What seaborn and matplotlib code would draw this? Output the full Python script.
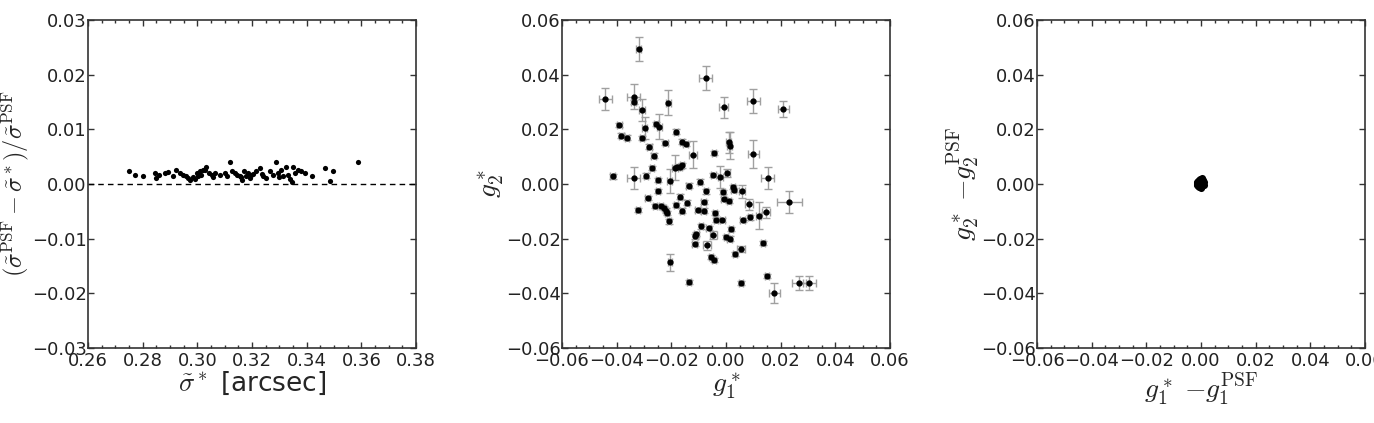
import numpy as np
import pandas as pd
import matplotlib
matplotlib.use('Agg')
import matplotlib.pyplot as plt
import seaborn as sns
from matplotlib.ticker import MultipleLocator

# ---- panel 1: size residuals vs star size ----
sigma_star = [0.2750, 0.2771, 0.2801, 0.2844, 0.2850, 0.2860, 0.2881, 0.2893, 0.2911, 0.2923,
              0.2936, 0.2948, 0.2960, 0.2966, 0.2975, 0.2985, 0.2997, 0.3003, 0.3009, 0.3015,
              0.3027, 0.3033, 0.3043, 0.3052, 0.3064, 0.3082, 0.3100, 0.3119, 0.3127, 0.3137,
              0.3146, 0.3155, 0.3164, 0.3170, 0.3177, 0.3186, 0.3192, 0.3204, 0.3216, 0.3229,
              0.3241, 0.3253, 0.3265, 0.3277, 0.3287, 0.3296, 0.3306, 0.3314, 0.3324, 0.3332,
              0.3345, 0.3351, 0.3359, 0.3369, 0.3381, 0.3393, 0.3418, 0.3467, 0.3485, 0.3497,
              0.3589, 0.2990, 0.3020, 0.3058, 0.3110, 0.3160, 0.3195, 0.3235, 0.3300, 0.3340]
size_resid = [0.0023, 0.0017, 0.0015, 0.0021, 0.0011, 0.0017, 0.0020, 0.0022, 0.0014, 0.0026,
              0.0020, 0.0017, 0.0014, 0.0011, 0.0008, 0.0013, 0.0020, 0.0014, 0.0023, 0.0017,
              0.0026, 0.0031, 0.0020, 0.0017, 0.0021, 0.0017, 0.0020, 0.0040, 0.0023, 0.0020,
              0.0017, 0.0014, 0.0008, 0.0023, 0.0015, 0.0020, 0.0011, 0.0019, 0.0023, 0.0030,
              0.0014, 0.0011, 0.0023, 0.0017, 0.0040, 0.0020, 0.0026, 0.0014, 0.0031, 0.0017,
              0.0004, 0.0031, 0.0020, 0.0026, 0.0023, 0.0020, 0.0015, 0.0030, 0.0005, 0.0023,
              0.0040, 0.0010, 0.0025, 0.0012, 0.0015, 0.0012, 0.0016, 0.0019, 0.0013, 0.0009]

# ---- panel 2: star ellipticities with errors ----
# first 35 stars have visible error bars, the rest are small (0.0008)
g1 = [-0.0442, -0.0320, -0.0074, -0.0338, -0.0338, -0.0308, -0.0211, -0.0009, 0.0100, 0.0210,
      -0.0298, -0.0244, -0.0255, -0.0122, 0.0010, 0.0013, 0.0100, -0.0338, -0.0206, 0.0152,
      0.0232, 0.0119, 0.0146, 0.0083, 0.0058, -0.0070, -0.0046, -0.0206, 0.0055, 0.0177,
      0.0267, 0.0305, 0.0005, -0.0021, -0.0186,
      -0.0415, -0.0390, -0.0383, -0.0362, -0.0308, -0.0280, -0.0265, -0.0222, -0.0270, -0.0293,
      -0.0287, -0.0323, -0.0249, -0.0249, -0.0259, -0.0237, -0.0227, -0.0220, -0.0217, -0.0208,
      -0.0182, -0.0168, -0.0161, -0.0143, -0.0137, -0.0182, -0.0161, -0.0148, -0.0178, -0.0168,
      -0.0160, -0.0104, -0.0094, -0.0082, -0.0082, -0.0074, -0.0092, -0.0064, -0.0112, -0.0115,
      -0.0108, -0.0040, -0.0037, -0.0043, -0.0046, -0.0013, 0.0000, 0.0013, 0.0018, -0.0055,
      -0.0043, 0.0034, 0.0010, -0.0010, -0.0009, 0.0025, 0.0028, 0.0061, 0.0088, 0.0135,
      0.0150, 0.0055, -0.0136]
g2 = [0.0310, 0.0494, 0.0387, 0.0320, 0.0299, 0.0271, 0.0298, 0.0280, 0.0304, 0.0275,
      0.0206, 0.0210, 0.0220, 0.0107, 0.0152, 0.0140, 0.0110, 0.0021, 0.0011, 0.0021,
      -0.0066, -0.0116, -0.0103, -0.0074, -0.0027, -0.0225, -0.0186, -0.0287, -0.0238, -0.0399,
      -0.0362, -0.0362, 0.0040, 0.0025, 0.0060,
      0.0028, 0.0216, 0.0177, 0.0170, 0.0168, 0.0137, 0.0104, 0.0150, 0.0058, 0.0031,
      -0.0052, -0.0094, 0.0015, -0.0025, -0.0080, -0.0080, -0.0088, -0.0097, -0.0106, -0.0137,
      -0.0076, -0.0046, -0.0097, -0.0068, -0.0006, 0.0192, 0.0155, 0.0146, 0.0062, 0.0064,
      0.0068, -0.0094, 0.0009, -0.0066, -0.0097, -0.0027, -0.0155, -0.0162, -0.0192, -0.0219,
      -0.0182, -0.0107, -0.0131, 0.0113, 0.0032, -0.0131, -0.0194, -0.0200, -0.0165, -0.0267,
      -0.0277, -0.0255, -0.0063, -0.0030, -0.0054, -0.0012, -0.0022, -0.0131, -0.0122, -0.0216,
      -0.0336, -0.0362, -0.0359]
g1_err = [0.0024, 0.0008, 0.0024, 0.0025, 0.0008, 0.0010, 0.0010, 0.0015, 0.0025, 0.0020,
          0.0010, 0.0010, 0.0008, 0.0015, 0.0010, 0.0010, 0.0020, 0.0025, 0.0010, 0.0025,
          0.0045, 0.0010, 0.0015, 0.0015, 0.0010, 0.0015, 0.0012, 0.0008, 0.0015, 0.0020,
          0.0025, 0.0025, 0.0010, 0.0010, 0.0010]
g2_err = [0.0040, 0.0043, 0.0043, 0.0045, 0.0008, 0.0040, 0.0045, 0.0040, 0.0045, 0.0030,
          0.0040, 0.0045, 0.0008, 0.0050, 0.0040, 0.0050, 0.0050, 0.0040, 0.0045, 0.0040,
          0.0040, 0.0050, 0.0020, 0.0020, 0.0025, 0.0015, 0.0015, 0.0030, 0.0012, 0.0035,
          0.0025, 0.0025, 0.0015, 0.0040, 0.0045]
small_err = 0.0008
g1_err = g1_err + [small_err] * (len(g1) - len(g1_err))
g2_err = g2_err + [small_err] * (len(g2) - len(g2_err))

# ---- panel 3: ellipticity residuals ----
dg1 = [-0.0014, -0.0008, -0.0003, 0.0004, -0.0011, 0.0007, -0.0005, 0.0011, -0.0016, 0.0000,
       0.0009, -0.0010, -0.0001, -0.0007, 0.0004, -0.0013, 0.0012, -0.0004, 0.0002, -0.0015]
dg2 = [0.0003, 0.0013, -0.0006, 0.0009, -0.0008, 0.0001, 0.0018, -0.0003, 0.0006, -0.0011,
       0.0015, 0.0011, -0.0014, -0.0012, -0.0007, 0.0000, 0.0006, 0.0004, 0.0021, -0.0004]

sns.set_theme(style='ticks')
plt.rcParams.update({
    'font.family': ['DejaVu Sans'],
    'mathtext.fontset': 'cm',
    'xtick.direction': 'in', 'ytick.direction': 'in',
    'xtick.top': True, 'ytick.right': True,
    'xtick.major.size': 4, 'ytick.major.size': 4,
    'xtick.minor.size': 2, 'xtick.minor.visible': True,
    'xtick.major.width': 1, 'ytick.major.width': 1,
    'axes.edgecolor': '#333333', 'axes.linewidth': 1.2,
    'xtick.color': '#333333', 'ytick.color': '#333333',
    'xtick.labelcolor': '#222222', 'ytick.labelcolor': '#222222',
    'xtick.labelsize': 13, 'ytick.labelsize': 13,
    'xtick.major.pad': 3, 'ytick.major.pad': 1,
})

fig = plt.figure(figsize=(13.74, 4.23), dpi=100)
w, h = 328 / 1374, 328 / 423
bottom = 75 / 423
ax1 = fig.add_axes([88 / 1374, bottom, w, h])
ax2 = fig.add_axes([562 / 1374, bottom, w, h])
ax3 = fig.add_axes([1037 / 1374, bottom, w, h])

# panel 1
df1 = pd.DataFrame({'sigma': sigma_star, 'resid': size_resid})
sns.scatterplot(data=df1, x='sigma', y='resid', ax=ax1, color='black', s=14,
                linewidth=0, zorder=3)
ax1.axhline(0, color='black', ls='--', lw=1, dashes=(4, 3))
ax1.set_xlim(0.26, 0.38)
ax1.set_ylim(-0.03, 0.03)
ax1.xaxis.set_major_locator(MultipleLocator(0.02))
ax1.xaxis.set_minor_locator(MultipleLocator(0.005))
ax1.yaxis.set_major_locator(MultipleLocator(0.01))
ax1.set_xlabel(r'$\tilde{\sigma}^*$ [arcsec]', fontsize=19, labelpad=0)
ax1.set_ylabel(r'$(\tilde{\sigma}^{\rm PSF} - \tilde{\sigma}^*)/\tilde{\sigma}^{\rm PSF}$',
               fontsize=17.5, labelpad=0)

# panel 2
ax2.errorbar(g1, g2, xerr=g1_err, yerr=g2_err, fmt='o', color='black', ms=3.5,
             ecolor='#a0a0a0', elinewidth=1, capsize=3, capthick=1, zorder=3)
ax2.set_xlim(-0.06, 0.06)
ax2.set_ylim(-0.06, 0.06)
ax2.set_xlabel(r'$g_1^*$', fontsize=20, labelpad=0)
ax2.set_ylabel(r'$g_2^*$', fontsize=20, labelpad=0)

# panel 3
df3 = pd.DataFrame({'dg1': dg1, 'dg2': dg2})
sns.scatterplot(data=df3, x='dg1', y='dg2', ax=ax3, color='black', s=26,
                linewidth=0, zorder=3)
ax3.set_xlim(-0.06, 0.06)
ax3.set_ylim(-0.06, 0.06)
ax3.set_xlabel(r'$g_1^*\;{-g_1^{\rm PSF}}$', fontsize=20, labelpad=0)
ax3.set_ylabel(r'$g_2^*\;{-g_2^{\rm PSF}}$', fontsize=20, labelpad=0)

for ax in (ax2, ax3):
    ax.xaxis.set_major_locator(MultipleLocator(0.02))
    ax.xaxis.set_minor_locator(MultipleLocator(0.005))
    ax.yaxis.set_major_locator(MultipleLocator(0.02))

for ax in (ax1, ax2, ax3):
    ax.yaxis.set_minor_locator(plt.NullLocator())
    ax.xaxis.set_major_formatter(plt.FuncFormatter(lambda v, p: f'{v:.2f}'.replace('-', '\u2212')))
    ax.yaxis.set_major_formatter(plt.FuncFormatter(lambda v, p: f'{v:.2f}'.replace('-', '\u2212')))

fig.savefig('out.png', dpi=100)
